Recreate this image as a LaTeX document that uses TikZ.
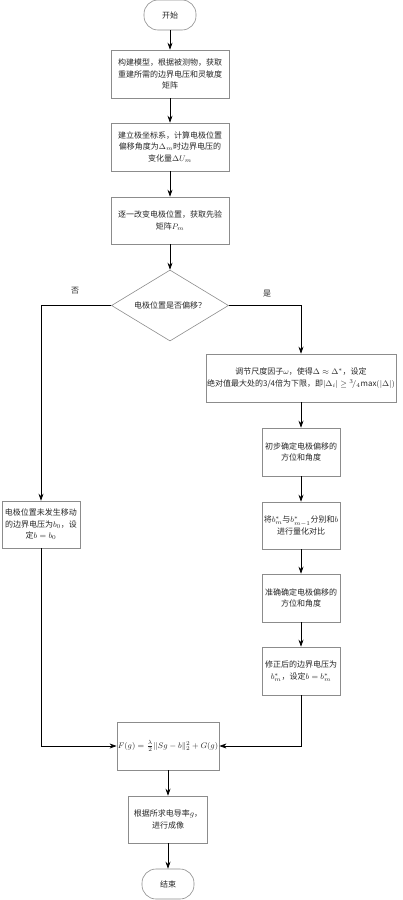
\documentclass[tikz,border=0pt]{standalone}
\usepackage{fontspec}
\setmainfont{Noto Sans CJK SC}
\usetikzlibrary{shapes.geometric,arrows.meta}
\begin{document}
\begin{tikzpicture}[x=1pt,y=-1pt,
  every node/.style={font=\fontsize{8}{11.5}\selectfont, text=black!85},
  box/.style={draw=black!45, line width=0.6pt, rectangle, align=center, inner sep=1pt},
  term/.style={draw=black!45, line width=0.6pt, rectangle, rounded corners=14pt, minimum width=52pt, minimum height=30pt},
  decide/.style={draw=black!45, line width=0.6pt, diamond, shape aspect=1.65, inner sep=0pt, minimum width=117pt, minimum height=71pt},
  arr/.style={draw=black, line width=0.7pt, -{Stealth[length=7pt,width=5pt]}},
  lab/.style={font=\fontsize{8}{10}\selectfont}]
\useasboundingbox (0,0) rectangle (402,900);
\node[term] (start) at (170,15) {开始};
\node[box, minimum width=118pt, minimum height=48pt] (b1) at (170,74) {构建模型，根据被测物，获取\\重建所需的边界电压和灵敏度\\矩阵};
\node[box, minimum width=118pt, minimum height=48pt] (b2) at (170,147) {建立极坐标系，计算电极位置\\偏移角度为$\Delta_m$时边界电压的\\变化量$\Delta U_m$};
\node[box, minimum width=118pt, minimum height=47pt] (b3) at (170,220.5) {逐一改变电极位置，获取先验\\矩阵$P_m$};
\node[decide] (dia) at (170,305.5) {电极位置是否偏移？};
\node[box, minimum width=78pt, minimum height=47pt] (L) at (41,524.5) {电极位置未发生移动\\的边界电压为$b_0$，设\\定$b=b_0$};
\node[box, minimum width=187pt, minimum height=48pt] (r1) at (301,378) {调节尺度因子$\omega$，使得$\Delta\approx\Delta^{*}$，设定\\绝对值最大处的3/4倍为下限，即$|\Delta_i|\geq{}^{3}\!/_{4}\mathrm{max}(|\Delta|)$};
\node[box, minimum width=78pt, minimum height=48pt] (r2) at (301,452) {初步确定电极偏移的\\方位和角度};
\node[box, minimum width=78pt, minimum height=47pt] (r3) at (301,525.5) {将$b_m^{*}$与$b_{m-1}^{*}$分别和$b$\\进行量化对比};
\node[box, minimum width=78pt, minimum height=48pt] (r4) at (301,598) {准确确定电极偏移的\\方位和角度};
\node[box, minimum width=78pt, minimum height=48pt] (r5) at (301,671) {修正后的边界电压为\\$b_m^{*}$，设定$b=b_m^{*}$};
\node[box, minimum width=99pt, minimum height=48pt] (f) at (168,746) {$F(g)=\frac{\lambda}{2}\|Sg-b\|_2^2+G(g)$};
\node[box, minimum width=79pt, minimum height=47pt] (g) at (168,819.5) {根据所求电导率$g$，\\进行成像};
\node[term] (end) at (168,884) {结束};
\node[lab] (no) at (75,291) {否};
\node[lab] (yes) at (267,294) {是};
\draw[arr] (start) -- (b1);
\draw[arr] (b1) -- (b2);
\draw[arr] (b2) -- (b3);
\draw[arr] (b3) -- (dia);
\draw[arr] (dia.west) -| (L.north);
\draw[arr] (dia.east) -| (r1.north);
\draw[arr] (r1) -- (r2);
\draw[arr] (r2) -- (r3);
\draw[arr] (r3) -- (r4);
\draw[arr] (r4) -- (r5);
\draw[arr] (r5.south) |- (f.east);
\draw[arr] (L.south) |- (f.west);
\draw[arr] (f) -- (g);
\draw[arr] (g) -- (end);
\end{tikzpicture}
\end{document}
